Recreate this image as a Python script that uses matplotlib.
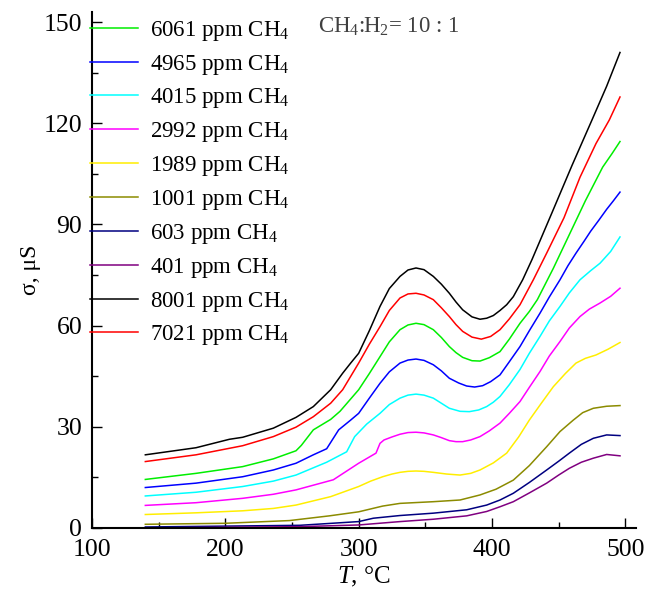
import numpy as np
import matplotlib
matplotlib.use("Agg")
import matplotlib.pyplot as plt
from matplotlib.ticker import MultipleLocator

plt.rcParams["font.family"] = ["Liberation Serif", "DejaVu Serif"]
plt.rcParams["mathtext.fontset"] = "custom"
plt.rcParams["mathtext.rm"] = "Liberation Serif"
plt.rcParams["mathtext.it"] = "Liberation Serif:italic"

# ------------------------------------------------------------------ #
#  Data (T in °C, sigma in uS)                  #
# ------------------------------------------------------------------ #

t_6061 = [140, 178, 213, 236, 253, 257, 266, 279, 286, 300, 308, 316, 323, 331, 337, 343, 349,
          356, 362, 368, 373, 378, 385, 391, 398, 406, 413, 421, 428, 434, 446, 458, 470, 483,
          490, 496]
s_6061 = [14.4, 16.2, 18.2, 20.5, 22.9, 24.5, 29.1, 32.2, 34.6, 41.0, 45.8, 50.8, 55.2, 58.8,
          60.2, 60.7, 60.3, 58.8, 56.5, 53.8, 52.0, 50.6, 49.6, 49.5, 50.5, 52.3, 56.0, 60.7,
          64.2, 67.7, 77.0, 87.0, 97.0, 107.0, 111.0, 114.6]

t_4965 = [140, 178, 213, 236, 253, 266, 276, 285, 294, 300, 308, 316, 323, 331, 337, 343, 349,
          356, 362, 368, 375, 381, 387, 393, 399, 406, 413, 421, 428, 436, 443, 451, 457, 463,
          469, 474, 480, 486, 491, 496]
s_4965 = [12.0, 13.3, 15.2, 17.2, 19.2, 21.7, 23.5, 29.1, 32.0, 34.0, 38.5, 42.9, 46.3, 48.9,
          49.8, 50.1, 49.7, 48.4, 46.6, 44.4, 43.0, 42.1, 41.8, 42.2, 43.4, 45.4, 49.3, 53.8,
          58.5, 63.7, 68.5, 73.6, 77.8, 81.5, 85.0, 88.0, 91.2, 94.5, 97.0, 99.6]

t_4015 = [140, 178, 213, 236, 253, 276, 291, 297, 306, 316, 323, 331, 337, 343, 349, 356, 362,
          368, 376, 383, 390, 396, 401, 406, 413, 421, 428, 436, 443, 451, 458, 466, 474, 481,
          489, 496]
s_4015 = [9.5, 10.6, 12.3, 13.9, 15.7, 19.5, 22.6, 27.1, 30.8, 34.0, 36.6, 38.5, 39.4, 39.7,
          39.4, 38.5, 37.0, 35.5, 34.6, 34.5, 35.0, 36.0, 37.3, 39.0, 42.5, 47.0, 51.8, 56.8,
          61.4, 65.7, 69.7, 73.6, 76.3, 78.5, 82.0, 86.3]

t_2992 = [140, 178, 213, 236, 253, 281, 300, 313, 316, 319, 325, 331, 337, 343, 349, 356, 362,
          368, 373, 378, 384, 391, 398, 406, 413, 421, 428, 436, 443, 451, 458, 466, 473, 481,
          489, 496]
s_2992 = [6.7, 7.5, 8.8, 10.0, 11.3, 14.3, 19.2, 22.2, 25.1, 26.1, 27.0, 27.8, 28.3, 28.4, 28.2,
          27.6, 26.8, 25.9, 25.6, 25.6, 26.1, 27.1, 28.8, 31.1, 34.0, 37.5, 41.7, 46.4, 51.0,
          55.3, 59.3, 62.7, 64.9, 66.7, 68.7, 71.1]

t_1989 = [140, 178, 213, 236, 253, 279, 300, 309, 318, 325, 331, 337, 343, 349, 356, 366, 376,
          384, 391, 401, 411, 420, 428, 437, 446, 455, 463, 470, 478, 487, 496]
s_1989 = [4.0, 4.5, 5.1, 5.8, 6.8, 9.3, 12.3, 13.9, 15.2, 16.0, 16.5, 16.8, 16.9, 16.8, 16.5,
          16.0, 15.7, 16.2, 17.2, 19.3, 22.2, 27.0, 32.0, 37.0, 41.9, 45.8, 48.9, 50.3, 51.3,
          53.0, 55.0]

t_1001 = [140, 200, 248, 278, 300, 318, 331, 356, 376, 391, 403, 416, 428, 441, 451, 461, 468,
          476, 486, 496]
s_1001 = [1.1, 1.4, 2.2, 3.6, 4.8, 6.5, 7.3, 7.8, 8.3, 9.8, 11.5, 14.2, 18.5, 24.1, 28.6, 32.0,
          34.2, 35.5, 36.1, 36.3]

t_603 = [140, 256, 300, 311, 331, 356, 381, 396, 406, 416, 428, 441, 450, 458, 467, 476, 486,
         496]
s_603 = [0.3, 0.8, 1.9, 2.9, 3.7, 4.4, 5.4, 6.8, 8.3, 10.3, 13.5, 17.2, 19.8, 22.2, 24.8, 26.6,
         27.6, 27.4]

t_401 = [140, 256, 300, 331, 356, 381, 396, 406, 416, 428, 441, 450, 458, 467, 476, 486, 496]
s_401 = [0.0, 0.4, 0.9, 1.9, 2.6, 3.6, 4.9, 6.3, 7.8, 10.4, 13.3, 15.7, 17.7, 19.5, 20.7, 21.8,
         21.4]

t_8001 = [140, 178, 203, 213, 236, 253, 266, 279, 288, 294, 300, 308, 316, 323, 331, 337, 343,
          349, 356, 362, 368, 373, 378, 385, 391, 396, 401, 406, 411, 416, 423, 430, 445, 460,
          475, 486, 496]
s_8001 = [21.7, 23.8, 26.3, 26.9, 29.6, 32.8, 36.0, 41.0, 45.9, 48.9, 51.8, 58.5, 65.7, 71.0,
          74.6, 76.5, 77.1, 76.6, 74.6, 72.3, 69.6, 67.0, 64.7, 62.6, 61.9, 62.2, 63.0, 64.5,
          66.2, 68.6, 73.6, 79.6, 93.5, 107.5, 121.0, 131.0, 141.0]

t_7021 = [140, 178, 213, 236, 253, 266, 279, 288, 300, 308, 316, 323, 331, 337, 343, 349, 356,
          362, 368, 373, 378, 385, 392, 399, 406, 413, 421, 431, 441, 454, 466, 478, 488, 496]
s_7021 = [19.7, 21.7, 24.4, 27.1, 29.9, 33.0, 37.0, 41.0, 48.9, 54.5, 59.7, 64.5, 68.2, 69.4,
          69.6, 69.1, 67.7, 65.3, 62.7, 60.3, 58.3, 56.6, 56.0, 56.8, 58.8, 62.0, 66.2, 73.6,
          81.5, 92.0, 104.0, 114.0, 121.0, 127.8]

labels = ["6061 ppm CH$_4$", "4965 ppm CH$_4$", "4015 ppm CH$_4$", "2992 ppm CH$_4$",
          "1989 ppm CH$_4$", "1001 ppm CH$_4$", "603 ppm CH$_4$", "401 ppm CH$_4$",
          "8001 ppm CH$_4$", "7021 ppm CH$_4$"]
temps = [t_6061, t_4965, t_4015, t_2992, t_1989, t_1001, t_603, t_401, t_8001, t_7021]
sigmas = [s_6061, s_4965, s_4015, s_2992, s_1989, s_1001, s_603, s_401, s_8001, s_7021]
colors = ["#00ee00", "#0000ff", "#00ffff", "#ff00ff", "#ffee00",
          "#8b8b00", "#000080", "#800080", "#000000", "#ff0000"]

# ------------------------------------------------------------------ #
#  Plot                                                                #
# ------------------------------------------------------------------ #

fig = plt.figure(figsize=(6.46, 5.97), dpi=100)
ax = fig.add_axes([92 / 646, 1 - 528 / 597, 544 / 646, 516 / 597])

for t, s, c, lab in zip(temps, sigmas, colors, labels):
    ax.plot(t, s, color=c, linewidth=1.1, label=lab)

ax.set_xlim(100, 508)
ax.set_ylim(0, 153)
ax.xaxis.set_major_locator(MultipleLocator(100))
ax.xaxis.set_minor_locator(MultipleLocator(50))
ax.yaxis.set_major_locator(MultipleLocator(30))
ax.yaxis.set_minor_locator(MultipleLocator(15))

for side in ["top", "right"]:
    ax.spines[side].set_visible(False)
for side in ["left", "bottom"]:
    ax.spines[side].set_linewidth(1.5)

ax.tick_params(which="major", direction="in", length=7, width=1.0, labelsize=18.5)
ax.tick_params(which="minor", direction="in", length=4.5, width=1.0)
ax.tick_params(axis="x", which="major", pad=8)
ax.tick_params(axis="y", which="major", pad=7)

ax.set_xlabel("$T$, °C", fontsize=18, labelpad=3)
ax.set_ylabel("σ, μS", fontsize=17, labelpad=2)

leg = ax.legend(loc="upper left", bbox_to_anchor=(-0.004, 0.987), frameon=False,
                fontsize=16.5, handlelength=2.1, handletextpad=0.52,
                labelspacing=0.43, borderpad=0, borderaxespad=0)

ax.text(0.415, 0.971, "CH$_4$:H$_2$= 10 : 1", transform=ax.transAxes,
        fontsize=16.5, color="#404040", va="center", ha="left")

fig.savefig("out.png", dpi=100)
